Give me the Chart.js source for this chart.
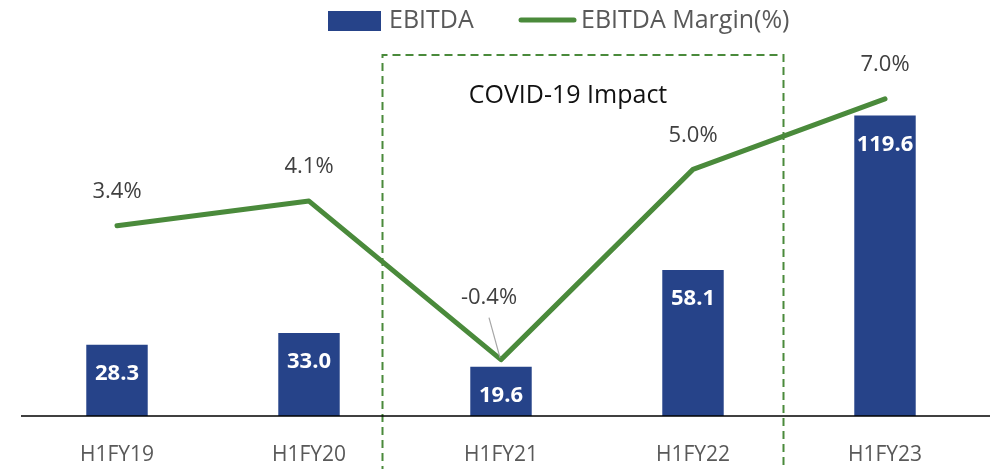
<!DOCTYPE html>
<html lang="en">
<head>
<meta charset="UTF-8">
<title>EBITDA and EBITDA Margin</title>
<script src="https://cdn.jsdelivr.net/npm/chart.js"></script>
<style>
    html, body { margin: 0; padding: 0; background: #fff; }
    #wrap { width: 990px; height: 469px; position: relative; }
</style>
</head>
<body>
<div id="wrap"><canvas id="ebitdaChart"></canvas></div>
<script>
    // chart data
    const periods = ['H1FY19', 'H1FY20', 'H1FY21', 'H1FY22', 'H1FY23'];
    const ebitda = [28.3, 33.0, 19.6, 58.1, 119.6];
    const margin = [3.4, 4.1, -0.4, 5.0, 7.0];
    const legendNames = ['EBITDA', 'EBITDA Margin(%)'];
    const covidLabel = 'COVID-19 Impact';

    const BLUE = '#264389';
    const GREEN = '#4a8a3b';
    const GREY = '#595959';
    const FONT = '"Open Sans", sans-serif';

    // draws legend, value labels, the covid box and the axis line
    const decorations = {
        id: 'decorations',
        afterDatasetsDraw(chart) {
            const c = chart.ctx;
            const area = chart.chartArea;
            const xs = chart.scales.x;
            c.save();

            // dashed covid box around H1FY21..H1FY22
            const boxL = Math.round(xs.getPixelForValue(1.38)) + 0.5;
            const boxR = Math.round(xs.getPixelForValue(3.47)) + 0.5;
            c.strokeStyle = GREEN;
            c.lineWidth = 2;
            c.setLineDash([8, 5]);
            c.beginPath();
            c.moveTo(boxL, chart.height + 5);
            c.lineTo(boxL, 55);
            c.lineTo(boxR, 55);
            c.lineTo(boxR, chart.height + 5);
            c.stroke();
            c.setLineDash([]);

            c.fillStyle = '#111';
            c.font = '25px ' + FONT;
            c.textAlign = 'center';
            c.textBaseline = 'middle';
            c.fillText(covidLabel, 568, 96);

            // x axis line
            c.strokeStyle = '#000';
            c.lineWidth = 1.5;
            c.beginPath();
            c.moveTo(area.left, area.bottom);
            c.lineTo(chart.width, area.bottom);
            c.stroke();

            // bar values
            const bars = chart.getDatasetMeta(0).data;
            c.fillStyle = '#fff';
            c.font = 'bold 22px ' + FONT;
            bars.forEach((b, i) => {
                c.fillText(ebitda[i].toFixed(1), b.x, b.y + 29);
            });

            // margin values
            const pts = chart.getDatasetMeta(1).data;
            c.fillStyle = '#404040';
            c.font = '22px ' + FONT;
            pts.forEach((p, i) => {
                let lx = p.x, ly = p.y - 34;
                if (margin[i] < 0) {
                    lx = p.x - 12;
                    ly = p.y - 62;
                    c.strokeStyle = '#a6a6a6';
                    c.lineWidth = 1.2;
                    c.beginPath();
                    c.moveTo(lx, ly + 20);
                    c.lineTo(p.x - 1, p.y - 2);
                    c.stroke();
                }
                c.fillText(margin[i].toFixed(1) + '%', lx, ly);
            });

            // legend
            c.font = '25px ' + FONT;
            c.textAlign = 'left';
            c.fillStyle = BLUE;
            c.fillRect(328, 11, 53, 20);
            c.fillStyle = GREY;
            c.fillText(legendNames[0], 389, 21);
            c.strokeStyle = GREEN;
            c.lineWidth = 5;
            c.lineCap = 'round';
            c.beginPath();
            c.moveTo(521, 20);
            c.lineTo(574, 20);
            c.stroke();
            c.fillText(legendNames[1], 581, 21);
            c.restore();
        }
    };

    const ctx = document.getElementById('ebitdaChart').getContext('2d');
    new Chart(ctx, {
        data: {
            labels: periods,
            datasets: [
                {
                    type: 'bar',
                    label: legendNames[0],
                    data: ebitda,
                    backgroundColor: BLUE,
                    borderWidth: 0,
                    categoryPercentage: 1,
                    barPercentage: 0.32,
                    yAxisID: 'yBar',
                    order: 2
                },
                {
                    type: 'line',
                    label: legendNames[1],
                    data: margin,
                    borderColor: GREEN,
                    borderWidth: 5,
                    borderCapStyle: 'round',
                    borderJoinStyle: 'round',
                    pointRadius: 0,
                    tension: 0,
                    yAxisID: 'yLine',
                    order: 1
                }
            ]
        },
        options: {
            responsive: true,
            maintainAspectRatio: false,
            animation: false,
            layout: { padding: { top: 39, left: 21, right: 9, bottom: 0 } },
            plugins: {
                legend: { display: false },
                tooltip: { enabled: false }
            },
            scales: {
                x: {
                    grid: { display: false },
                    border: { display: false },
                    ticks: {
                        color: GREY,
                        font: { family: FONT, size: 21 },
                        padding: 18
                    },
                    afterFit(scale) { scale.height = 53; }
                },
                yBar: {
                    display: false,
                    min: 0,
                    max: 150
                },
                yLine: {
                    display: false,
                    min: -2,
                    max: 8.7
                }
            }
        },
        plugins: [decorations]
    });
</script>
</body>
</html>
